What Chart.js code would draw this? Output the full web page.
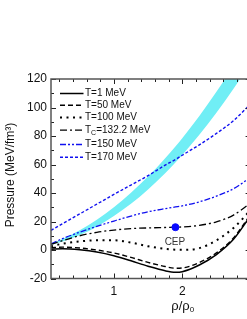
<!DOCTYPE html>
<html>
<head>
<meta charset="utf-8">
<script src="https://cdn.jsdelivr.net/npm/chart.js@4.4.1/dist/chart.umd.min.js"></script>
<style>
  html, body { margin: 0; padding: 0; background: #fff; overflow: hidden; }
  #wrap { width: 247px; height: 319px; overflow: hidden; position: relative; }
  canvas { display: block; }
</style>
</head>
<body>
<div id="wrap"><canvas id="c" width="256" height="319"></canvas></div>
<script>
// ---- data ----
const rho = [0.08, 0.25, 0.5, 0.75, 1.0, 1.25, 1.5, 1.75, 1.9, 2.0, 2.25, 2.5, 2.75, 3.0];
const bandUpper = [4.5, 7.8, 13.8, 21.2, 30.0, 40.1, 51.5, 64.4, 72.7, 78.5, 94.1, 111.0, 129.3, 149.6];
const bandLower = [3.5, 5.9, 10.5, 16.4, 23.8, 32.4, 42.5, 53.9, 61.4, 66.7, 80.8, 96.3, 113.2, 131.4];
const pT1   = [0.5, 0.8, 0.1, -1.4, -4.0, -7.6, -11.4, -14.6, -15.6, -15.2, -10.5, -3.2, 7.5, 24];
const pT50  = [1.6, 2.0, 1.4, 0.0, -2.1, -5.2, -8.7, -11.6, -12.8, -12.6, -8.8, -2.0, 8.5, 25];
const pT100 = [2.6, 4.4, 6.0, 6.8, 6.8, 5.2, 2.6, 0.8, 0.2, 0.1, 1.3, 6.8, 15.5, 28];
const pTc   = [3.9, 6.6, 10.0, 12.4, 14.0, 15.0, 15.5, 15.8, 16.0, 16.2, 17.3, 19.8, 24.5, 33];
const pT150 = [4.3, 8.0, 12.5, 16.6, 20.3, 23.8, 26.8, 29.0, 30.2, 31.0, 33.8, 37.8, 43.0, 51];
const pT170 = [13.8, 18.5, 25.3, 32.2, 39.0, 45.6, 52.2, 59.5, 63.5, 66.5, 73.8, 81.8, 90.8, 102.5];
const cep = [{ x: 1.9, y: 16 }];
const cepLabel = "CEP";
const legendNames = ["T=1 MeV", "T=50 MeV", "T=100 MeV", "TC=132.2 MeV", "T=150 MeV", "T=170 MeV"];
const yTicks = [-20, 0, 20, 40, 60, 80, 100, 120];
const xTicks = [1, 2];
const yTitle = "Pressure (MeV/fm³)";
const xTitle = "ρ/ρ";
const xTitleSub = "0";

const pts = arr => arr.map((v, i) => ({ x: rho[i], y: v }));
const FONT = "'Liberation Sans', Arial, sans-serif";
const BLUE = '#1010f0';

const lineDs = (label, arr, color, dash, width) => ({
  label, data: pts(arr), borderColor: color, borderWidth: width, borderDash: dash,
  pointRadius: 0, fill: false, cubicInterpolationMode: 'monotone', order: 1
});

const datasets = [
  { label: 'bandU', data: pts(bandUpper), borderWidth: 0, borderColor: 'rgba(0,0,0,0)', pointRadius: 0,
    backgroundColor: 'rgb(112,238,245)', fill: '+1', cubicInterpolationMode: 'monotone', order: 10 },
  { label: 'bandL', data: pts(bandLower), borderWidth: 0, borderColor: 'rgba(0,0,0,0)', pointRadius: 0,
    fill: false, cubicInterpolationMode: 'monotone', order: 10 },
  lineDs(legendNames[0], pT1, '#000', [], 1.5),
  lineDs(legendNames[1], pT50, '#000', [5, 3], 1.4),
  lineDs(legendNames[2], pT100, '#000', [2, 4.5], 2),
  lineDs(legendNames[3], pTc, '#000', [7, 3, 2, 3], 1.3),
  lineDs(legendNames[4], pT150, BLUE, [6, 2, 2, 2, 2, 2], 1.3),
  lineDs(legendNames[5], pT170, BLUE, [3, 2], 1.4),
  { label: 'CEP', type: 'scatter', data: cep, pointRadius: 3.5, pointBackgroundColor: '#0a0aff',
    pointBorderColor: '#0a0aff', showLine: false, order: 0 }
];

const legendRows = [93.5, 105.3, 117.5, 130.2, 144.5, 157.3];

const decor = {
  id: 'decor',
  afterDraw(chart) {
    const ctx = chart.ctx, a = chart.chartArea;
    const xs = chart.scales.x, ys = chart.scales.y;
    ctx.save();
    // ticks (inward)
    ctx.strokeStyle = '#222';
    ctx.lineWidth = 1;
    ctx.beginPath();
    for (let v = -20; v <= 120; v += 10) {
      const y = Math.round(ys.getPixelForValue(v)) + 0.5;
      const L = (v % 20 === 0) ? 5 : 3;
      ctx.moveTo(a.left, y); ctx.lineTo(a.left + L, y);
      ctx.moveTo(a.right, y); ctx.lineTo(a.right - L, y);
    }
    for (let k = 1; k <= 14; k++) {
      const v = k * 0.2;
      const x = Math.round(xs.getPixelForValue(v)) + 0.5;
      const L = (k % 5 === 0) ? 5 : 3;
      ctx.moveTo(x, a.top); ctx.lineTo(x, a.top + L);
      ctx.moveTo(x, a.bottom); ctx.lineTo(x, a.bottom - L);
    }
    ctx.stroke();
    // frame
    ctx.strokeStyle = '#555';
    ctx.lineWidth = 1.5;
    ctx.strokeRect(a.left, a.top, a.right - a.left, a.bottom - a.top);

    // legend
    const ds = chart.data.datasets.slice(2, 8);
    ds.forEach((d, i) => {
      const y = legendRows[i];
      ctx.beginPath();
      ctx.setLineDash(d.borderDash);
      ctx.strokeStyle = d.borderColor;
      ctx.lineWidth = d.borderWidth;
      ctx.moveTo(60, y); ctx.lineTo(83.5, y);
      ctx.stroke();
      ctx.setLineDash([]);
      ctx.fillStyle = '#111';
      ctx.textBaseline = 'middle';
      ctx.textAlign = 'left';
      ctx.font = '10px ' + FONT;
      const name = legendNames[i];
      if (name.startsWith('TC')) {
        ctx.fillText('T', 85, y);
        const w = ctx.measureText('T').width;
        ctx.font = '7px ' + FONT;
        ctx.fillText('C', 85 + w, y + 3);
        const w2 = ctx.measureText('C').width;
        ctx.font = '10px ' + FONT;
        ctx.fillText(name.slice(2), 85 + w + w2, y);
      } else {
        ctx.fillText(name, 85, y);
      }
    });

    // CEP label
    ctx.fillStyle = '#333';
    ctx.font = '10px ' + FONT;
    ctx.textAlign = 'center';
    ctx.textBaseline = 'middle';
    ctx.fillText(cepLabel, xs.getPixelForValue(cep[0].x) - 0.5, ys.getPixelForValue(cep[0].y) + 15.5);

    // y title
    ctx.save();
    ctx.translate(11, 175);
    ctx.rotate(-Math.PI / 2);
    ctx.fillStyle = '#111';
    ctx.font = '12px ' + FONT;
    ctx.textAlign = 'center';
    ctx.textBaseline = 'middle';
    ctx.fillText(yTitle, 0, 0);
    ctx.restore();

    // x title
    ctx.fillStyle = '#111';
    ctx.font = '13px ' + FONT;
    ctx.textAlign = 'left';
    ctx.textBaseline = 'middle';
    const tw = ctx.measureText(xTitle).width;
    const x0 = 183 - (tw + 5) / 2;
    ctx.fillText(xTitle, x0, 306);
    ctx.font = '8px ' + FONT;
    ctx.fillText(xTitleSub, x0 + tw, 310);
    ctx.restore();
  }
};

new Chart(document.getElementById('c'), {
  type: 'line',
  data: { datasets },
  options: {
    responsive: false,
    animation: false,
    devicePixelRatio: 1,
    layout: { padding: { top: 79, right: 5.4, left: 0, bottom: 0 } },
    plugins: { legend: { display: false }, tooltip: { enabled: false } },
    scales: {
      x: {
        type: 'linear', min: 0.08, max: 3.0,
        grid: { display: false, drawTicks: false },
        border: { display: false },
        afterBuildTicks: s => { s.ticks = xTicks.map(v => ({ value: v })); },
        afterFit: s => { s.height = 40.5; },
        ticks: { color: '#111', font: { family: FONT, size: 12 }, padding: 6, maxRotation: 0 }
      },
      y: {
        type: 'linear', min: -20, max: 120,
        grid: { display: false, drawTicks: false },
        border: { display: false },
        afterBuildTicks: s => { s.ticks = yTicks.map(v => ({ value: v })); },
        afterFit: s => { s.width = 51; },
        ticks: { color: '#111', font: { family: FONT, size: 12 }, padding: 4 }
      }
    }
  },
  plugins: [decor]
});
</script>
</body>
</html>
